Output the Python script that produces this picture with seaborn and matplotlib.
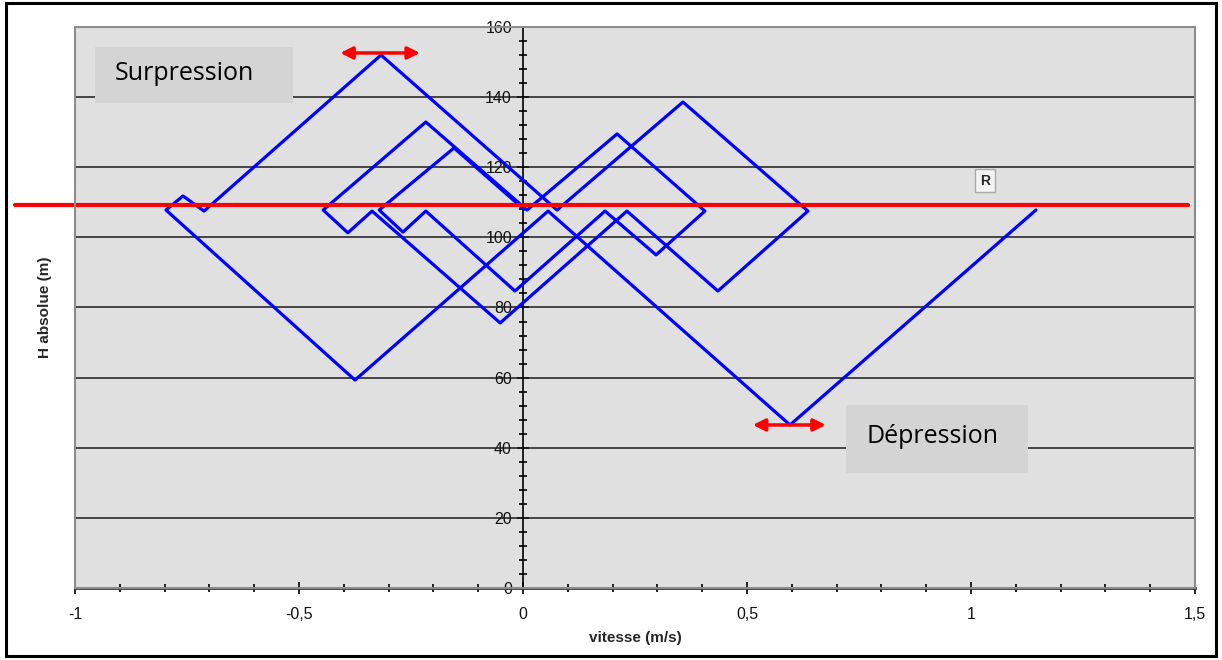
import numpy as np
import pandas as pd
import matplotlib
matplotlib.use("Agg")
import matplotlib.pyplot as plt
import seaborn as sns
from matplotlib.patches import Rectangle
from matplotlib.ticker import MultipleLocator, FixedLocator

# ---------------- DATA ----------------
vitesse = [1.145, 0.596, 0.056, -0.375, -0.797, -0.759, -0.712, -0.317, 0.076,
           0.357, 0.636, 0.435, 0.232, -0.051, -0.337, -0.391, -0.446, -0.217,
           0.009, 0.210, 0.406, 0.297, 0.183, -0.018, -0.217, -0.268, -0.321,
           -0.154, 0.002]
h_absolue = [107.8, 46.5, 107.5, 59.3, 107.8, 111.8, 107.5, 152.0, 107.8,
             138.6, 107.5, 84.7, 107.5, 75.6, 107.5, 101.3, 107.8, 132.9,
             107.8, 129.5, 107.5, 95.0, 107.5, 84.7, 107.5, 101.5, 107.8,
             125.5, 108.0]
niveau_R = 109.2

x_ticks = [-1, -0.5, 0, 0.5, 1, 1.5]
x_labels = ["-1", "-0,5", "0", "0,5", "1", "1,5"]
y_ticks = [0, 20, 40, 60, 80, 100, 120, 140, 160]
grid_levels = [20, 40, 60, 80, 100, 120, 140]

# arrows: (v_start, v_end, H)
fleche_surp = (-0.408, -0.230, 152.6)
fleche_dep = (0.513, 0.676, 46.5)

df = pd.DataFrame({"vitesse": vitesse, "H": h_absolue})

# ---------------- FIGURE ----------------
sns.set_style("white")
plt.rcParams["font.family"] = ["Liberation Sans", "DejaVu Sans"]

fig = plt.figure(figsize=(12.22, 6.6), dpi=100)
ax = fig.add_axes([0.0614, 0.1091, 0.9165, 0.85])
ax.set_facecolor("#e0e0e0")

# outer frame of the chart
fig.patches.append(Rectangle((0.005, 0.006), 0.99, 0.989, transform=fig.transFigure,
                             fill=False, edgecolor="black", linewidth=2.2))

ax.set_xlim(-1, 1.5)
ax.set_ylim(0, 160)

# horizontal grid
for g in grid_levels:
    ax.axhline(g, color="#1a1a1a", linewidth=1.1, zorder=1)

# plot-area border
ax.add_patch(Rectangle((0, 0), 1, 1, transform=ax.transAxes, fill=False,
                       edgecolor="#8c8c8c", linewidth=1.5, zorder=5, clip_on=False))

sns.lineplot(data=df, x="vitesse", y="H", sort=False, estimator=None,
             color="#0000ff", linewidth=2.3, ax=ax, zorder=3)

# reservoir level line (extends past the plot area on the left)
ax.plot([-1.134, 1.484], [niveau_R, niveau_R], color="#ff0000", linewidth=3,
        clip_on=False, zorder=4)

# axes through zero
ax.spines["left"].set_position(("data", 0))
ax.spines["left"].set_color("#000000")
ax.spines["left"].set_linewidth(1.2)
ax.spines["bottom"].set_color("#333333")
ax.spines["bottom"].set_linewidth(2)
ax.spines["top"].set_visible(False)
ax.spines["right"].set_visible(False)

ax.xaxis.set_major_locator(FixedLocator(x_ticks))
ax.xaxis.set_minor_locator(MultipleLocator(0.1))
ax.set_xticklabels(x_labels)
ax.yaxis.set_major_locator(FixedLocator(y_ticks))
ax.yaxis.set_minor_locator(MultipleLocator(4))
ax.tick_params(axis="both", which="both", bottom=True, left=True)
ax.tick_params(axis="both", which="major", direction="inout", length=8, width=1.2,
               color="black", labelsize=11.5, labelcolor="#111111")
ax.tick_params(axis="both", which="minor", direction="inout", length=6, width=1.2,
               color="black")
ax.tick_params(axis="x", pad=10)
ax.tick_params(axis="y", pad=4)

ax.set_xlabel("vitesse (m/s)", fontsize=11, fontweight="bold", labelpad=6)
ax.set_ylabel("H absolue (m)", fontsize=11, fontweight="bold")
ax.yaxis.set_label_coords(-0.021, 0.5)

# annotations
ax.add_patch(Rectangle((-0.955, 138.3), 0.442, 16, facecolor="#d4d4d4",
                       edgecolor="none", zorder=4))
ax.text(-0.911, 146.6, "Surpression", fontsize=18, family="Open Sans",
        color="black", va="center", ha="left", zorder=6)
ax.add_patch(Rectangle((0.721, 32.8), 0.406, 19.4, facecolor="#d4d4d4",
                       edgecolor="none", zorder=4))
ax.text(0.766, 43.1, "Dépression", fontsize=18, family="Open Sans",
        color="black", va="center", ha="left", zorder=6)
ax.text(1.031, 116.2, "R", fontsize=10, fontweight="bold", ha="center", va="center",
        zorder=6, bbox=dict(boxstyle="square,pad=0.35", facecolor="#f4f4f4",
                            edgecolor="#a8a8a8"))

for v0, v1, h in (fleche_surp, fleche_dep):
    ax.annotate("", xy=(v0, h), xytext=(v1, h), zorder=7,
                arrowprops=dict(arrowstyle="<|-|>", color="#ff0000", lw=2.5,
                                mutation_scale=18, shrinkA=0, shrinkB=0))

fig.savefig("out.png", dpi=100)
